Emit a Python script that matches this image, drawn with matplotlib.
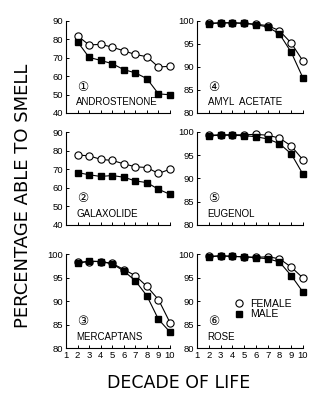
import matplotlib
matplotlib.use('Agg')
import matplotlib.pyplot as plt
from matplotlib.lines import Line2D

decades = [2, 3, 4, 5, 6, 7, 8, 9, 10]

# female / male values per odorant
andro_f = [81.9, 77.0, 77.3, 75.8, 73.8, 71.8, 70.6, 65.0, 65.4]
andro_m = [78.7, 70.2, 68.6, 66.8, 63.6, 61.8, 58.7, 50.4, 49.9]
galax_f = [77.6, 77.2, 75.3, 74.7, 72.9, 71.3, 70.9, 67.7, 70.0]
galax_m = [68.2, 67.0, 66.1, 66.6, 65.7, 63.7, 62.8, 59.2, 56.5]
merc_f = [98.2, 98.4, 98.4, 98.0, 96.7, 95.4, 93.1, 90.3, 85.4]
merc_m = [98.0, 98.5, 98.4, 97.9, 96.4, 94.3, 91.1, 86.1, 83.4]
amyl_f = [99.5, 99.6, 99.6, 99.5, 99.3, 99.0, 97.9, 95.2, 91.3]
amyl_m = [99.4, 99.6, 99.6, 99.5, 99.2, 98.7, 97.2, 93.2, 87.6]
eug_f = [99.3, 99.4, 99.4, 99.4, 99.5, 99.3, 98.7, 97.0, 94.0]
eug_m = [99.2, 99.3, 99.3, 99.2, 99.0, 98.5, 97.5, 95.3, 90.9]
rose_f = [99.5, 99.6, 99.5, 99.4, 99.3, 99.4, 99.0, 97.2, 94.9]
rose_m = [99.4, 99.6, 99.5, 99.4, 99.2, 99.0, 98.3, 95.4, 91.9]

panels = [
    ('ANDROSTENONE', '\u2460', andro_f, andro_m, (40, 90), [40, 50, 60, 70, 80, 90]),
    ('GALAXOLIDE', '\u2461', galax_f, galax_m, (40, 90), [40, 50, 60, 70, 80, 90]),
    ('MERCAPTANS', '\u2462', merc_f, merc_m, (80, 100), [80, 85, 90, 95, 100]),
    ('AMYL  ACETATE', '\u2463', amyl_f, amyl_m, (80, 100), [80, 85, 90, 95, 100]),
    ('EUGENOL', '\u2464', eug_f, eug_m, (80, 100), [80, 85, 90, 95, 100]),
    ('ROSE', '\u2465', rose_f, rose_m, (80, 100), [80, 85, 90, 95, 100]),
]

W, H = 336, 405
fig = plt.figure(figsize=(W / 100, H / 100), dpi=100, facecolor='white')

col_x = [(66, 104), (197, 106)]
row_y = [(21, 113), (132, 225), (254, 348)]

tick_font = dict(family='Liberation Sans', size=6.8)

for i, (name, num, fem, mal, ylim, yticks) in enumerate(panels):
    col, row = divmod(i, 3)
    x0, w = col_x[col]
    top, bot = row_y[row]
    ax = fig.add_axes([x0 / W, 1 - bot / H, w / W, (bot - top) / H])
    ax.plot(decades, fem, '-', color='black', lw=0.8, marker='o', ms=5.2,
            mfc='white', mec='black', mew=0.8, clip_on=False, zorder=3)
    ax.plot(decades, mal, '-', color='black', lw=0.8, marker='s', ms=4.4,
            mfc='black', mec='black', clip_on=False, zorder=4)
    ax.set_xlim(1, 10)
    ax.set_ylim(*ylim)
    ax.set_xticks(range(1, 11))
    ax.set_yticks(yticks)
    for s in ['top', 'right']:
        ax.spines[s].set_visible(False)
    for s in ['left', 'bottom']:
        ax.spines[s].set_linewidth(0.8)
    ax.tick_params(direction='in', length=2.5, width=0.7, pad=2)
    for lab in ax.get_yticklabels():
        lab.set_fontproperties(tick_font)
    if row == 2:
        for lab in ax.get_xticklabels():
            lab.set_fontproperties(tick_font)
    else:
        ax.set_xticklabels([])
    ax.text(0.1, 0.06, name, transform=ax.transAxes, ha='left', va='bottom',
            family='Liberation Sans', fontsize=7)
    ax.text(0.16, 0.28, num, transform=ax.transAxes, ha='center', va='center',
            family=['DejaVu Sans', 'Noto Sans CJK JP'], fontsize=9)
    if i == 5:
        handles = [
            Line2D([], [], ls='none', marker='o', ms=5.2, mfc='white', mec='black', mew=0.8),
            Line2D([], [], ls='none', marker='s', ms=4.4, mfc='black', mec='black'),
        ]
        ax.legend(handles, ['FEMALE', 'MALE'], loc='upper left',
                  bbox_to_anchor=(0.3, 0.58), frameon=False, handlelength=1.0,
                  handletextpad=0.5, labelspacing=0.05, borderpad=0,
                  prop=dict(family='Liberation Sans', size=7.5))

fig.text(0.533, 0.054, 'DECADE OF LIFE', ha='center', va='center',
         family='DejaVu Sans', fontsize=12.5)
fig.text(0.067, 0.516, 'PERCENTAGE ABLE TO SMELL', ha='center', va='center',
         rotation=90, family='DejaVu Sans', fontsize=13)

fig.savefig('out.png', dpi=100, facecolor='white')
